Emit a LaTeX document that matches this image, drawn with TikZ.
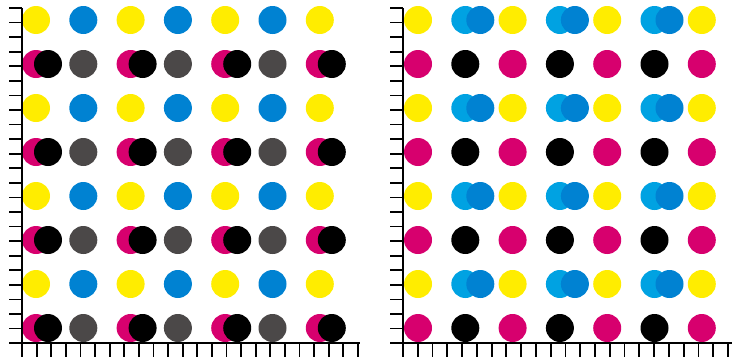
\documentclass[tikz,border=0pt]{standalone}
\usepackage{tikz}

\definecolor{dotyellow}{HTML}{FFED00}
\definecolor{dotblue}{HTML}{0082D2}
\definecolor{dotcyan}{HTML}{00A2E2}
\definecolor{dotmagenta}{HTML}{D7006E}
\definecolor{dotgray}{HTML}{4B4848}

\tikzset{
  axis/.style={line width=2.5pt,black},
  tick/.style={line width=1.8pt,black},
  dot/.style={fill=#1}
}

\begin{document}
\begin{tikzpicture}[x=1pt,y=-1pt]
    \useasboundingbox (0,0) rectangle (738,359);

    % Left panel: dots
    \foreach \r in {0,2,4,6} {
      \foreach \c in {0,2,4,6}
        \fill[dot=dotyellow] (36+47.3*\c,20+44*\r) circle[radius=14pt];
      \foreach \c in {1,3,5}
        \fill[dot=dotblue] (36+47.3*\c,20+44*\r) circle[radius=14pt];
    }
    \foreach \r in {1,3,5,7} {
      \foreach \c in {0,2,4,6} {
        \fill[dot=dotmagenta] (36+47.3*\c,20+44*\r) circle[radius=14pt];
        \fill[dot=black] (48+47.3*\c,20+44*\r) circle[radius=14pt];
      }
      \foreach \c in {1,3,5}
        \fill[dot=dotgray] (36+47.3*\c,20+44*\r) circle[radius=14pt];
    }

    % Right panel: dots
    \foreach \r in {0,2,4,6} {
      \foreach \c in {0,2,4,6}
        \fill[dot=dotyellow] (418+47.3*\c,20+44*\r) circle[radius=14pt];
      \foreach \c in {1,3,5} {
        \fill[dot=dotcyan] (418+47.3*\c,20+44*\r) circle[radius=14pt];
        \fill[dot=dotblue] (433+47.3*\c,20+44*\r) circle[radius=14pt];
      }
    }
    \foreach \r in {1,3,5,7} {
      \foreach \c in {0,2,4,6}
        \fill[dot=dotmagenta] (418+47.3*\c,20+44*\r) circle[radius=14pt];
      \foreach \c in {1,3,5}
        \fill[dot=black] (418+47.3*\c,20+44*\r) circle[radius=14pt];
    }

    % Left panel: axes and ticks
    \draw[axis] (22,8) -- (22,343);
    \draw[axis] (10,343) -- (360,343);
    \foreach \k in {0,...,23} {
      \draw[tick] (22,8+14.57*\k) -- ++(-13,0);
      \draw[tick] (22+14.6*\k,343) -- ++(0,14);
    }

    % Right panel: axes and ticks
    \draw[axis] (403,8) -- (403,343);
    \draw[axis] (391,343) -- (732,343);
    \foreach \k in {0,...,23}
      \draw[tick] (403,8+14.57*\k) -- ++(-13,0);
    \foreach \k in {0,...,22}
      \draw[tick] (403+14.77*\k,343) -- ++(0,14);
\end{tikzpicture}
\end{document}
